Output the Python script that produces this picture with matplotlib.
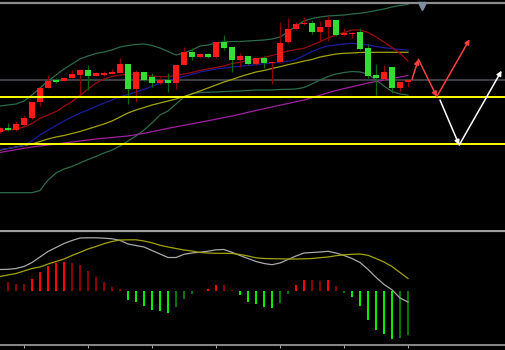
import matplotlib
matplotlib.use("Agg")
import matplotlib.pyplot as plt
import numpy as np

# ---- price data, one entry per candle (index 0..51) ----
opens = [98, 102.3, 100, 105, 111.7, 128, 142.3, 150.3, 149.3, 152.3,
         155.3, 160, 154.3, 154.7, 156.3, 156.7, 166.3, 141, 157.7, 153,
         147.3, 150, 146.7, 165, 178, 173.3, 175.7, 173.3, 188, 183,
         170, 174.3, 166, 171.7, 166.7, 168.3, 187.7, 201, 205.7, 207,
         198.3, 202.7, 209.7, 195.3, 195.7, 197.7, 181.7, 154.7, 151, 163,
         141.7, 147.7]
highs = [103, 107, 109, 115, 128.3, 142, 155, 152, 153.3, 160,
         160.7, 165, 157.7, 159.3, 160.7, 171.7, 166.3, 160, 157.7, 157.3,
         152.7, 157.3, 165.3, 183.3, 181.7, 177.3, 176.7, 188, 195, 183,
         176.7, 174.3, 171.7, 174.3, 169, 208.3, 211.7, 208.3, 213.3, 210.3,
         209, 213.7, 210.3, 202.3, 198.3, 202.3, 185.7, 166.3, 165, 163,
         147.7, 150.3]
lows = [97, 99.5, 99, 104, 111, 124, 142, 147, 149, 151.7,
        135, 140, 154, 154.3, 155.7, 156.7, 126, 127.7, 149, 142.7,
        146, 138.3, 141.3, 165, 170, 172.3, 171.7, 172.3, 180, 158.3,
        163.3, 165, 165, 162.3, 145.7, 166.7, 186.7, 200, 205, 195.7,
        189, 189, 194.3, 194.3, 191.7, 180, 152.3, 135, 149.7, 136.7,
        137.7, 143.3]
closes = [102, 100, 105.7, 112, 128.3, 142, 149, 148.3, 152.3, 155.7,
          160, 154.3, 156.7, 157.3, 158.3, 166.3, 141, 157.7, 150, 147.3,
          150, 146.7, 165.3, 178, 172.7, 175.7, 173.3, 188, 181.7, 170,
          174.3, 165.7, 171.7, 167.3, 168.3, 187.3, 201, 205.7, 207, 198.3,
          203, 209.7, 195, 196.7, 197, 181, 153.7, 151.7, 158.3, 141.7,
          147.7, 150.3]

# ---- indicators on the price panel ----
bb_upper = [124, 125, 126, 129, 135, 142, 149, 155, 161, 166,
            171, 174, 176.5, 178, 180, 183, 184.5, 185.5, 186, 184.5,
            182, 178.5, 175, 177, 180, 184, 185, 187, 188, 188.5,
            188.5, 189, 189.5, 190, 191, 193, 198, 204, 209, 211.5,
            213, 214, 214.5, 215, 216, 216.7, 218, 219.5, 221, 223,
            224.5, 225.5]
bb_lower = [37.3, 37.3, 37.3, 37.3, 37.3, 39.5, 50, 57, 61, 63.5,
            67, 70.5, 73.5, 77, 80, 84, 89, 94, 100, 107,
            115, 119, 126, 133, 136.5, 137.5, 137.8, 138, 138.4, 138.8,
            139, 139.5, 140, 140, 140, 140.5, 140.7, 141, 142.5, 146,
            150, 153.5, 156, 157.5, 158.5, 158, 156, 150, 144, 138.5,
            136, 135]
ma_red = [99, 100, 100.7, 103, 106.5, 111.7, 115, 118.5, 123.5, 128.5,
          134.5, 141, 147, 151, 153.5, 155, 155.7, 155.3, 154.7, 153.8,
          153.3, 153.3, 154.5, 156, 157.5, 159.7, 161, 162.5, 164, 166.5,
          167.7, 169.5, 171, 172.5, 174.5, 176.7, 179, 180.5, 181.7, 185,
          188.3, 192, 195, 197.5, 200, 200, 197.5, 193, 188, 182.5,
          176.7, 169]
ma_blue = [80.5, 81.5, 83, 84.5, 89, 95, 100, 104.5, 109, 113,
           117, 120, 123.5, 127, 130, 133.3, 135.5, 138, 140.5, 143.7,
           146.7, 149.5, 151.5, 153.5, 155.7, 158, 159.5, 161, 162, 163,
           163.7, 164.5, 165.3, 166.3, 167, 167.7, 168.7, 170.5, 174.5, 178.5,
           181.7, 184, 185, 186, 186.7, 186, 185, 183.5, 182.3, 181.3,
           180.5, 180]
ma_olive = [80, 81.5, 83, 84.5, 86, 88.5, 91, 93, 94.5, 96.5,
            98.5, 101, 103.5, 106, 109, 113, 117, 120, 122.5, 125,
            127, 129, 131, 133.5, 136, 139, 142, 145, 148, 150.5,
            153.3, 155.7, 158, 159.5, 161.5, 163.3, 165.3, 167, 169, 170.5,
            173, 174.5, 176, 176.7, 177, 177.5, 177.7, 177.7, 177.7, 177.7,
            177.7, 177.7]
ma_purple = [77.5, 79, 80.3, 81.7, 83, 84, 85, 86, 87, 88,
             89, 90, 91, 91.8, 92.5, 93.3, 94, 95.3, 96.7, 98.3,
             100, 101.7, 103.2, 104.7, 106.2, 107.7, 109.3, 110.8, 112.4, 114,
             115.8, 117.7, 119.5, 121.3, 123, 124.8, 126.5, 128.3, 130, 132.4,
             134.8, 137.2, 139.5, 141.4, 143.2, 145.1, 147, 148.5, 150, 151.5,
             153, 154.5]

last_price = 150.5
levels = [133.3, 85.6]

# projected paths drawn as arrows
red_path_x = [51.5, 52.3, 54.6, 58.7]
red_path_y = [150.7, 170.7, 133.3, 190.7]
white_path_x = [55.0, 57.4, 62.7]
white_path_y = [130.0, 85.0, 159.3]

# ---- MACD panel ----
macd_hist = [np.nan, 9.5, 7.3, 7.3, 12.3, 19.5, 25.8, 28.7, 29.5, 28.5,
             26.3, 20.6, 14.8, 9, 4, 2, -8.7, -10.7, -14.7, -18.7,
             -19.7, -22, -16, -7.7, -2.7, 0.8, 2.3, 6.3, 6.2, 1.3,
             -3.4, -10.2, -12.7, -15.7, -17, -11.7, -2.4, 6, 11, 11,
             10, 11, 5, -1.7, -6, -14.4, -29, -39, -42.4, -47.7,
             -46.7, -43.4]
macd_main = [21.8, 22, 22.8, 24.8, 28.8, 34.3, 39.8, 43.8, 47.8, 50.8,
             53.3, 53.5, 53.5, 53.1, 52.5, 51, 47.3, 45.8, 44.3, 40.8,
             37.3, 33.8, 33.8, 37, 38.3, 39.1, 40.1, 41.5, 41.8, 39,
             35.8, 32.8, 29.8, 27.8, 26.6, 28.3, 31.8, 35.3, 38.3, 38.8,
             39.3, 40, 38.3, 35.8, 32.8, 28.8, 21.9, 14, 6.8, 1.5,
             -6.7, -10.7]
macd_signal = [14.8, 16.3, 17.8, 20.3, 22.8, 24.3, 27.3, 29.8, 32.3, 35.8,
               39, 42.3, 44.8, 47.6, 49.8, 51.3, 51.5, 51.5, 50.3, 48.5,
               46, 44.3, 42.8, 41.3, 40.3, 38.8, 38.3, 38, 38, 37.8,
               36.8, 35.3, 33.5, 32.8, 32.6, 32.5, 32.3, 32.3, 32.5, 32.8,
               33.6, 34.3, 35.6, 36.5, 37, 37.3, 36, 32.8, 29.3, 24.8,
               18.8, 12.8]
time_ticks = [3, 11, 19, 27, 35, 43, 51]

x = np.arange(len(opens))
o = np.array(opens)
c = np.array(closes)
up = c >= o

fig = plt.figure(figsize=(5.06, 3.5), dpi=100, facecolor="black")
ax = fig.add_axes([0, 120 / 350, 1, 230 / 350])
ax2 = fig.add_axes([0, 0, 1, 120 / 350])
for a in (ax, ax2):
    a.set_facecolor("black")
    a.set_xlim(0, 506 / 8)
    a.set_axis_off()
ax.set_ylim(0, 230)
ax2.set_ylim(-58.7, 61.3)

# price panel
ax.axhline(last_price, color="#4a4a52", lw=1.2, zorder=1)
ax.axhline(227.5, color="#8c8c8c", lw=1.6, zorder=1)
ax.plot(x, bb_upper, color="#2e6b4a", lw=0.9, zorder=2)
ax.plot(x, bb_lower, color="#2e6b4a", lw=0.9, zorder=2)
ax.plot(x, ma_purple, color="#a020a0", lw=0.9, zorder=2)
ax.plot(x, ma_olive, color="#a3a30f", lw=0.9, zorder=2)
ax.plot(x, ma_blue, color="#1c1c9c", lw=0.9, zorder=2)
ax.plot(x, ma_red, color="#9a0c0c", lw=0.9, zorder=2)

body_col = np.where(up, "#ff1a1a", "#33dd33")
wick_col = np.where(up, "#8b0000", "#0a6a0a")
ax.vlines(x, lows, highs, colors=wick_col, lw=0.9, zorder=3)
ax.bar(x, np.maximum(np.abs(c - o), 0.8), bottom=np.minimum(o, c),
       width=0.7, color=body_col, zorder=4)

for lv in levels:
    ax.axhline(lv, color="#ffff00", lw=1.4, zorder=5)

ax.plot(52.8, 224, marker="v", ms=6, color="#7d8fa0", zorder=6)

for px, py, col in [(red_path_x, red_path_y, "#ff4040"),
                    (white_path_x, white_path_y, "#ffffff")]:
    for i in range(len(px) - 1):
        ax.annotate("", xy=(px[i + 1], py[i + 1]), xytext=(px[i], py[i]),
                    arrowprops=dict(arrowstyle="-|>", color=col, lw=1.1,
                                    mutation_scale=7, shrinkA=0, shrinkB=0),
                    zorder=6)

# MACD panel
h = np.array(macd_hist)
prev = np.concatenate([[np.nan], h[:-1]])
growing = np.abs(h) > np.abs(prev)
hist_col = np.where(h >= 0,
                    np.where(growing, "#ff0000", "#8b0000"),
                    np.where(growing, "#00ee00", "#007700"))
ax2.bar(x, h, width=0.25, color=hist_col, zorder=2)
ax2.plot(x, macd_main, color="#a9a9a9", lw=0.9, zorder=3)
ax2.plot(x, macd_signal, color="#a3a30f", lw=0.9, zorder=3)
ax2.axhline(60.3, color="#a0a0a0", lw=1.6, zorder=4)
ax2.axhline(-53.2, color="#a0a0a0", lw=1.2, zorder=4)
ax2.vlines(time_ticks, -56.5, -53.2, colors="#a0a0a0", lw=0.8)

fig.savefig("out.png", dpi=100, facecolor="black")
